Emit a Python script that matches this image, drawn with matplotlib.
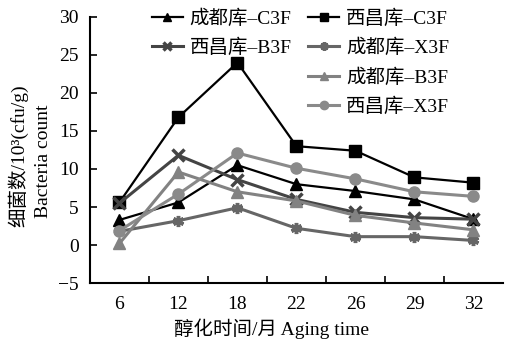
import matplotlib.pyplot as plt

# aging time categories (months)
months = ['6', '12', '18', '22', '26', '29', '32']

# bacteria count, 10^3 cfu/g
cd_c3f = [3.3, 5.6, 10.5, 8.0, 7.1, 6.0, 3.4]
xc_c3f = [5.6, 16.8, 24.0, 13.0, 12.4, 8.9, 8.2]
xc_b3f = [5.5, 11.8, 8.6, 6.0, 4.3, 3.6, 3.4]
cd_x3f = [1.8, 3.2, 4.9, 2.2, 1.1, 1.1, 0.6]
cd_b3f = [0.2, 9.6, 7.0, 5.8, 3.9, 2.9, 2.0]
xc_x3f = [1.9, 6.7, 12.1, 10.1, 8.7, 7.0, 6.4]

fonts = ['Liberation Serif', 'Noto Sans CJK SC']
plt.rcParams['font.family'] = fonts
plt.rcParams['font.size'] = 14
plt.rcParams['axes.unicode_minus'] = False

fig = plt.figure(figsize=(5.05, 3.46), dpi=100)
ax = fig.add_axes([0.178, 0.182, 0.818, 0.769])

x = range(len(months))
l1, = ax.plot(x, cd_c3f, color='black', lw=1.6, marker='^', ms=8, label='成都库–C3F')
l2, = ax.plot(x, xc_c3f, color='black', lw=1.6, marker='s', ms=8, label='西昌库–C3F')
l3, = ax.plot(x, xc_b3f, color='#444444', lw=2.2, marker='x', ms=8, mew=2.5, label='西昌库–B3F')
l4, = ax.plot(x, cd_x3f, color='#666666', lw=2.2, marker=(6, 2, 0), ms=8, mew=2.5, label='成都库–X3F')
l5, = ax.plot(x, cd_b3f, color='#828282', lw=2.2, marker='^', ms=8, label='成都库–B3F')
l6, = ax.plot(x, xc_x3f, color='#8a8a8a', lw=2.2, marker='o', ms=8, label='西昌库–X3F')

ax.set_xlim(-0.5, len(months) - 0.5)
ax.set_ylim(-5, 30)
ax.set_yticks(range(-5, 31, 5))
ax.set_yticklabels(['−5'] + [str(v) for v in range(0, 31, 5)])
ax.set_xticks(x)
ax.set_xticklabels(months)
ax.set_xticks([i + 0.5 for i in range(len(months) - 1)], minor=True)
ax.tick_params(axis='x', which='major', length=0, pad=9)
ax.tick_params(axis='x', which='minor', direction='in', length=5, width=1.2)
ax.tick_params(axis='y', direction='in', length=5, width=1.2, pad=8)
for s in ['top', 'right']:
    ax.spines[s].set_visible(False)
for s in ['left', 'bottom']:
    ax.spines[s].set_linewidth(1.5)

fig.text(0.537, 0.05, '醇化时间/月 Aging time', ha='center', va='center')
fig.text(0.036, 0.55, '细菌数/10³(cfu/g)', rotation=90, ha='center', va='center')
fig.text(0.087, 0.535, 'Bacteria count', rotation=90, ha='center', va='center')

leg_kw = dict(frameon=False, handlelength=1.6, handletextpad=0.35,
              labelspacing=0.55, borderaxespad=0, borderpad=0)
leg1 = fig.legend(handles=[l1, l3], loc='upper left', bbox_to_anchor=(0.3, 0.972), **leg_kw)
leg2 = fig.legend(handles=[l2, l4, l5, l6], loc='upper left', bbox_to_anchor=(0.61, 0.972), **leg_kw)
for leg in (leg1, leg2):
    for h in leg.legend_handles:
        h.set_markersize(6)

fig.savefig('out.png', dpi=100)
